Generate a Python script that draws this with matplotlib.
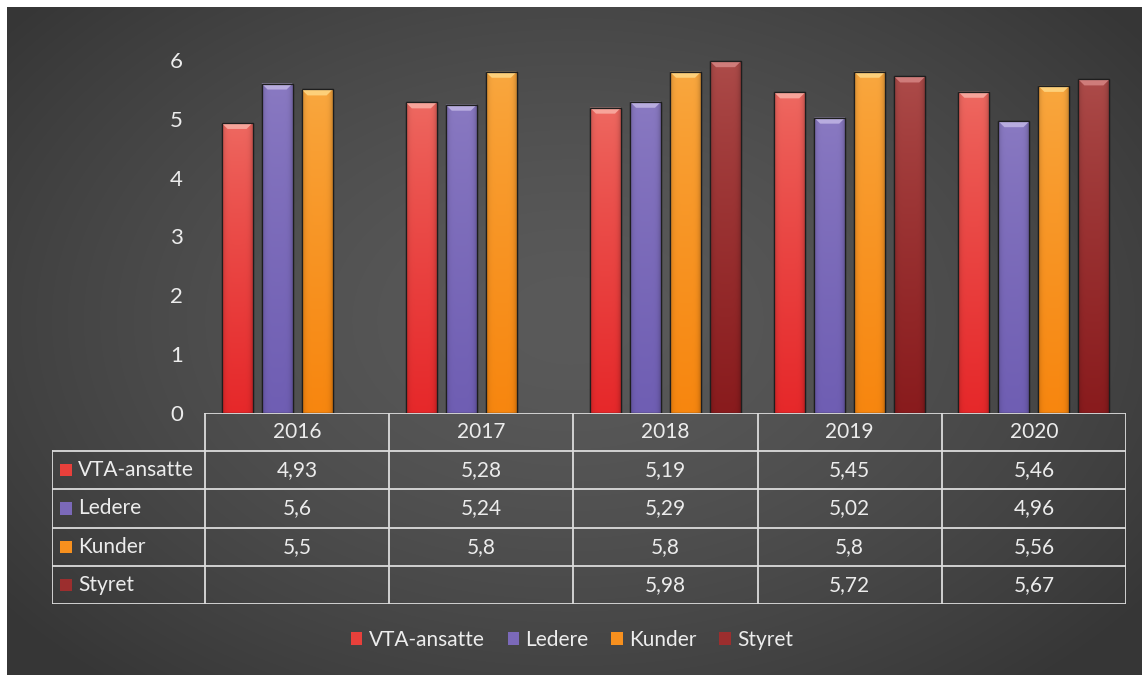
import numpy as np
import matplotlib
matplotlib.use("Agg")
import matplotlib.pyplot as plt
from matplotlib.patches import Rectangle, Polygon, Patch
from matplotlib.colors import to_rgb

plt.rcParams['font.family'] = ['Lato', 'DejaVu Sans']

# ---- data ----
years = ["2016", "2017", "2018", "2019", "2020"]
series_names = ["VTA-ansatte", "Ledere", "Kunder", "Styret"]
vta = [4.93, 5.28, 5.19, 5.45, 5.46]
ledere = [5.6, 5.24, 5.29, 5.02, 4.96]
kunder = [5.5, 5.8, 5.8, 5.8, 5.56]
styret = [np.nan, np.nan, 5.98, 5.72, 5.67]
yticks = [0, 1, 2, 3, 4, 5, 6]

series = [vta, ledere, kunder, styret]
# (top colour, bottom colour, bevel colour, legend colour)
styles = [
    ("#ee6a62", "#e6282a", "#f7a49a", "#e8403b"),
    ("#8a7ac2", "#6f5eb3", "#b8acdf", "#7b69b9"),
    ("#f9a840", "#f7860f", "#fdd07a", "#f7901e"),
    ("#ad4c4a", "#891b1d", "#cf7c7a", "#9c2e2e"),
]
txt_color = "#ececec"
line_color = "#dcdcdc"

W, H = 1142, 675
fig = plt.figure(figsize=(W / 100, H / 100), dpi=100, facecolor="#3c3c3c")

# ---- background ----
bg = fig.add_axes([0, 0, 1, 1], zorder=-10)
bg.set_facecolor("#3c3c3c")
pad = 30
yy, xx = np.mgrid[-pad:H + pad, -pad:W + pad]
r = np.sqrt(((xx - 570) / 720.0) ** 2 + ((yy - 320) / 480.0) ** 2)
r = np.clip(r, 0, 1)
c_center = np.array(to_rgb("#5a5a5a"))
c_edge = np.array(to_rgb("#363636"))
img = c_center + (c_edge - c_center) * (r[..., None] ** 1.5)
bg.imshow(img, extent=(-pad, W + pad, H + pad, -pad), aspect='auto',
          interpolation='nearest')
bg.set_xlim(0, W)
bg.set_ylim(H, 0)
bg.axis("off")
fig.patches.append(Rectangle((0, 1 - 7 / H), 1, 7 / H, transform=fig.transFigure,
                             facecolor="white", edgecolor="none", zorder=5))
fig.patches.append(Rectangle((0, 0), 7 / W, 1, transform=fig.transFigure,
                             facecolor="white", edgecolor="none", zorder=5))

# ---- main chart axes ----
px_left, px_right, px_bottom, px_top = 205, 1126, 413, 60
ax = fig.add_axes([px_left / W, 1 - px_bottom / H,
                   (px_right - px_left) / W, (px_bottom - px_top) / H])
ax.set_facecolor("none")
for s in ax.spines.values():
    s.set_visible(False)
ax.set_xlim(-0.5, len(years) - 0.5)
ax.set_ylim(0, 6)
ax.set_yticks(yticks)
ax.set_yticklabels([str(t) for t in yticks])
ax.tick_params(axis='y', length=0, pad=16, labelsize=16, labelcolor=txt_color)
ax.set_xticks([])

px_per_x = (px_right - px_left) / len(years)
px_per_y = (px_bottom - px_top) / 6.0
bar_w = 31 / px_per_x
step = 40 / px_per_x
x = np.arange(len(years))

for i, (vals, st) in enumerate(zip(series, styles)):
    top_c, bot_c, cap_c, _ = st
    offs = (i - 1.5) * step
    v = np.array(vals, dtype=float)
    bars = ax.bar(x + offs, np.nan_to_num(v), bar_w, color=bot_c,
                  edgecolor="#1e1e1e", linewidth=0.9, zorder=2)
    for b, val in zip(bars, v):
        if np.isnan(val):
            b.set_visible(False)
            continue
        x0, w, h = b.get_x(), b.get_width(), b.get_height()
        g = np.linspace(0, 1, 128)[:, None, None] ** 0.8
        c0 = np.array(to_rgb(top_c))[None, None, :]
        c1 = np.array(to_rgb(bot_c))[None, None, :]
        col = c0 * (1 - g) + c1 * g
        xs = np.linspace(-1, 1, 32)[None, :, None]
        shade = 1 - 0.2 * np.abs(xs) ** 6
        im_arr = np.clip(col * shade, 0, 1)
        im = ax.imshow(im_arr, extent=(x0, x0 + w, 0, h), origin='upper',
                       aspect='auto', zorder=2.5, interpolation='bilinear')
        im.set_clip_path(b)
        dx = 6 / px_per_x
        dy = 6 / px_per_y
        cap = Polygon([(x0, h), (x0 + w, h), (x0 + w - dx, h - dy), (x0 + dx, h - dy)],
                      closed=True, facecolor=cap_c, edgecolor="none", zorder=2.7)
        ax.add_patch(cap)
        ax.add_patch(Rectangle((x0, 0), w, h, facecolor="none",
                               edgecolor="#1e1e1e", linewidth=0.9, zorder=2.8))
ax.set_xlim(-0.5, len(years) - 0.5)
ax.set_ylim(0, 6)

# ---- data table ----
t_left, t_bottom = 52, 604
tax = fig.add_axes([t_left / W, 1 - t_bottom / H,
                    (px_right - t_left) / W, (t_bottom - px_bottom) / H])
tax.set_facecolor("none")
tax.axis("off")
lab_w = (px_left - t_left) / px_per_x
xl = -0.5 - lab_w
tax.set_xlim(xl, len(years) - 0.5)
n_rows = len(series) + 1
tax.set_ylim(n_rows, 0)
lw = 1.3
# horizontal lines
tax.plot([-0.5, len(years) - 0.5], [0, 0], color=line_color, lw=lw, solid_capstyle='projecting')
for rr in range(1, n_rows + 1):
    tax.plot([xl, len(years) - 0.5], [rr, rr], color=line_color, lw=lw, solid_capstyle='projecting')
# vertical lines
tax.plot([xl, xl], [1, n_rows], color=line_color, lw=lw)
for cc in range(len(years) + 1):
    tax.plot([cc - 0.5, cc - 0.5], [0, n_rows], color=line_color, lw=lw)

fs = 15
for j, yr in enumerate(years):
    tax.text(j, 0.5, yr, ha='center', va='center', color=txt_color, fontsize=fs)
for i, (name, vals, st) in enumerate(zip(series_names, series, styles)):
    rowy = i + 1.5
    tax.scatter([xl + 14 / px_per_x], [rowy], marker='s', s=75, color=st[3],
                edgecolors='none', zorder=3)
    tax.text(xl + 26 / px_per_x, rowy, name, ha='left', va='center',
             color=txt_color, fontsize=fs)
    for j, v in enumerate(vals):
        if not np.isnan(v):
            tax.text(j, rowy, ("%g" % v).replace('.', ','), ha='center',
                     va='center', color=txt_color, fontsize=fs)

# ---- legend ----
handles = [Patch(facecolor=st[3], edgecolor='none') for st in styles]
leg = fig.legend(handles, series_names, loc='center',
                 bbox_to_anchor=(572 / W, 1 - 640 / H), ncol=4, frameon=False,
                 fontsize=fs, handlelength=0.55, handleheight=0.55,
                 handletextpad=0.3, columnspacing=1.1)
for t in leg.get_texts():
    t.set_color(txt_color)

fig.savefig("out.png", dpi=100, facecolor=fig.get_facecolor())
